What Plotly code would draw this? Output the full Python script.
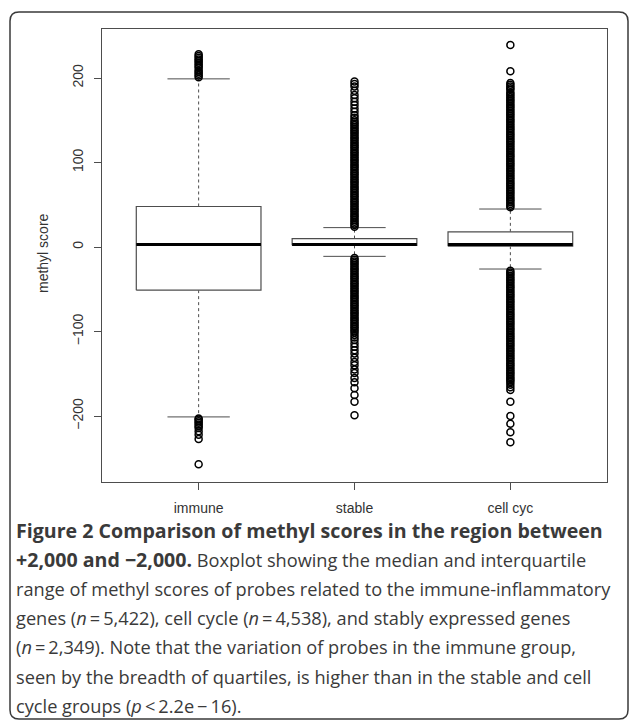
import plotly.graph_objects as go

# ---------------- data ----------------
groups = ["immune", "stable", "cell cyc"]
positions = [1, 2, 3]
q1 = [-51, 2, 1]
median = [3, 3, 3]
q3 = [48, 10, 18]
lower_whisker = [-201, -11, -26]
upper_whisker = [199, 23, 45]

immune_outliers = [201, 203, 205, 207, 209, 212, 214, 216, 218, 220, 222, 224, 226, 228,
                   -203, -204, -206, -208, -210, -212, -214, -218, -222, -227, -257]

stable_outliers = [24, 26, 28, 30, 32, 34, 36, 38, 40, 42, 44, 46, 48, 50, 52, 54, 56, 58,
                   60, 62, 64, 66, 68, 70, 72, 74, 76, 78, 80, 82, 84, 86, 88, 90, 92, 94,
                   96, 98, 100, 102, 104, 106, 108, 110, 112, 114, 116, 118, 120, 122, 124,
                   126, 128, 130, 132, 134, 136, 138, 140, 142, 144, 146, 148, 150, 153,
                   156, 160, 164, 168, 172, 176, 180, 185, 190, 193, 196,
                   -13, -15, -17, -19, -21, -23, -25, -27, -29, -31, -33, -35, -37, -39,
                   -41, -43, -45, -47, -49, -51, -53, -55, -57, -59, -61, -63, -65, -67,
                   -69, -71, -73, -75, -77, -79, -81, -83, -85, -87, -89, -91, -93, -95,
                   -97, -99, -101, -104, -107, -110, -114, -118, -122, -126, -131, -136,
                   -140, -145, -149, -155, -160, -167, -175, -183, -199]

cellcyc_outliers = [47, 49, 51, 53, 55, 57, 59, 61, 63, 65, 67, 69, 71, 73, 75, 77, 79, 81,
                    83, 85, 87, 89, 91, 93, 95, 97, 99, 101, 103, 105, 107, 109, 111, 113,
                    115, 117, 119, 121, 123, 125, 127, 129, 131, 133, 135, 137, 139, 141,
                    143, 145, 147, 149, 151, 153, 155, 157, 159, 161, 163, 165, 167, 169,
                    171, 173, 175, 177, 179, 181, 183, 186, 188, 190, 192, 194, 208, 239,
                    -28, -30, -32, -34, -36, -38, -40, -42, -44, -46, -48, -50, -52, -54,
                    -56, -58, -60, -62, -64, -66, -68, -70, -72, -74, -76, -78, -80, -82,
                    -84, -86, -88, -90, -92, -94, -96, -98, -100, -102, -104, -106, -108,
                    -110, -112, -114, -116, -118, -120, -122, -124, -126, -128, -130, -132,
                    -134, -136, -138, -140, -142, -144, -146, -148, -150, -152, -154, -156,
                    -158, -160, -163, -166, -169, -183, -200, -209, -219, -231]

outliers = [immune_outliers, stable_outliers, cellcyc_outliers]

y_ticks = [-200, -100, 0, 100, 200]
y_tick_labels = ["−200", "−100", "0", "100", "200"]

BOLD = '<b><span style="font-size:19.6px">'
caption_lines = [
    BOLD + "Figure 2 Comparison of methyl scores in the region between</span></b>",
    BOLD + "+2,000 and −2,000.</span></b> Boxplot showing the median and interquartile",
    "range of methyl scores of probes related to the immune-inflammatory",
    "genes (<i>n</i>\u2009=\u20095,422), cell cycle (<i>n</i>\u2009=\u20094,538), and stably expressed genes",
    "(<i>n</i>\u2009=\u20092,349). Note that the variation of probes in the immune group,",
    "seen by the breadth of quartiles, is higher than in the stable and cell",
    "cycle groups (<i>p</i>\u2009&lt;\u20092.2e\u2009−\u200916).",
]

# ---------------- layout geometry ----------------
W, H = 629, 720
L, R, T, B = 102, 22, 29, 238
PW, PH = W - L - R, H - T - B


def px(x):
    return (x - L) / PW


def py(y):
    return (H - B - y) / PH


BOX_HALF = 0.4
CAP_HALF = 0.2
LINE_COL = "#4d4d4d"

fig = go.Figure()

for i, pos in enumerate(positions):
    # whiskers (dashed)
    fig.add_trace(go.Scatter(
        x=[pos, pos, None, pos, pos],
        y=[q3[i], upper_whisker[i], None, q1[i], lower_whisker[i]],
        mode="lines", line=dict(color=LINE_COL, width=1, dash="3px,3px"),
        hoverinfo="skip", showlegend=False))
    # caps
    fig.add_trace(go.Scatter(
        x=[pos - CAP_HALF, pos + CAP_HALF, None, pos - CAP_HALF, pos + CAP_HALF],
        y=[upper_whisker[i], upper_whisker[i], None, lower_whisker[i], lower_whisker[i]],
        mode="lines", line=dict(color=LINE_COL, width=1),
        hoverinfo="skip", showlegend=False))
    # box
    fig.add_trace(go.Scatter(
        x=[pos - BOX_HALF, pos + BOX_HALF, pos + BOX_HALF, pos - BOX_HALF, pos - BOX_HALF],
        y=[q1[i], q1[i], q3[i], q3[i], q1[i]],
        mode="lines", line=dict(color=LINE_COL, width=1.2),
        fill="toself", fillcolor="white",
        hoverinfo="skip", showlegend=False))
    # median
    fig.add_trace(go.Scatter(
        x=[pos - BOX_HALF, pos + BOX_HALF], y=[median[i], median[i]],
        mode="lines", line=dict(color="black", width=3),
        hoverinfo="skip", showlegend=False))
    # outliers
    fig.add_trace(go.Scatter(
        x=[pos] * len(outliers[i]), y=outliers[i], mode="markers",
        marker=dict(symbol="circle-open", size=7, color="black", line=dict(width=1.5)),
        hoverinfo="y", showlegend=False))

axis_font = dict(family="Liberation Sans, Arial, sans-serif", size=14, color="#333333")

fig.update_xaxes(
    range=[0.38, 3.62], tickmode="array", tickvals=positions, ticktext=groups,
    showgrid=False, zeroline=False, showline=True, mirror=True,
    linecolor=LINE_COL, linewidth=1, ticks="outside", ticklen=7,
    tickcolor=LINE_COL, tickfont=axis_font, ticklabelstandoff=6)
fig.update_yaxes(
    range=[-278, 258], tickmode="array", tickvals=y_ticks, ticktext=y_tick_labels,
    tickangle=-90, showgrid=False, zeroline=False, showline=True, mirror=True,
    linecolor=LINE_COL, linewidth=1, ticks="outside", ticklen=7,
    tickcolor=LINE_COL, tickfont=axis_font, ticklabelstandoff=5)

annotations = [dict(
    text="methyl score", xref="paper", yref="paper", x=px(43), y=py(253),
    xanchor="center", yanchor="middle", textangle=-90, showarrow=False,
    font=axis_font)]

line_y0, line_dy = 530, 29.3
for k, line in enumerate(caption_lines):
    annotations.append(dict(
        text=line, xref="paper", yref="paper", x=px(14), y=py(line_y0 + k * line_dy),
        xanchor="left", yanchor="middle", showarrow=False, align="left",
        font=dict(family="Open Sans, sans-serif", size=18.2, color="#3a3a3a")))

# rounded outer border
bx0, bx1, by0, by1, r = 10, 628, 12, 719, 9
path = (
    f"M {px(bx0 + r)},{py(by0)} L {px(bx1 - r)},{py(by0)} "
    f"Q {px(bx1)},{py(by0)} {px(bx1)},{py(by0 + r)} "
    f"L {px(bx1)},{py(by1 - r)} Q {px(bx1)},{py(by1)} {px(bx1 - r)},{py(by1)} "
    f"L {px(bx0 + r)},{py(by1)} Q {px(bx0)},{py(by1)} {px(bx0)},{py(by1 - r)} "
    f"L {px(bx0)},{py(by0 + r)} Q {px(bx0)},{py(by0)} {px(bx0 + r)},{py(by0)} Z"
)

fig.update_layout(
    width=W, height=H, margin=dict(l=L, r=R, t=T, b=B),
    paper_bgcolor="white", plot_bgcolor="white",
    annotations=annotations,
    shapes=[dict(type="path", path=path, xref="paper", yref="paper",
                 line=dict(color="#3a3a3a", width=1.5), layer="below")],
)

fig.write_html("out.html", config={"displayModeBar": False},
               post_script="document.body.style.margin='0';document.body.style.overflow='hidden';")
